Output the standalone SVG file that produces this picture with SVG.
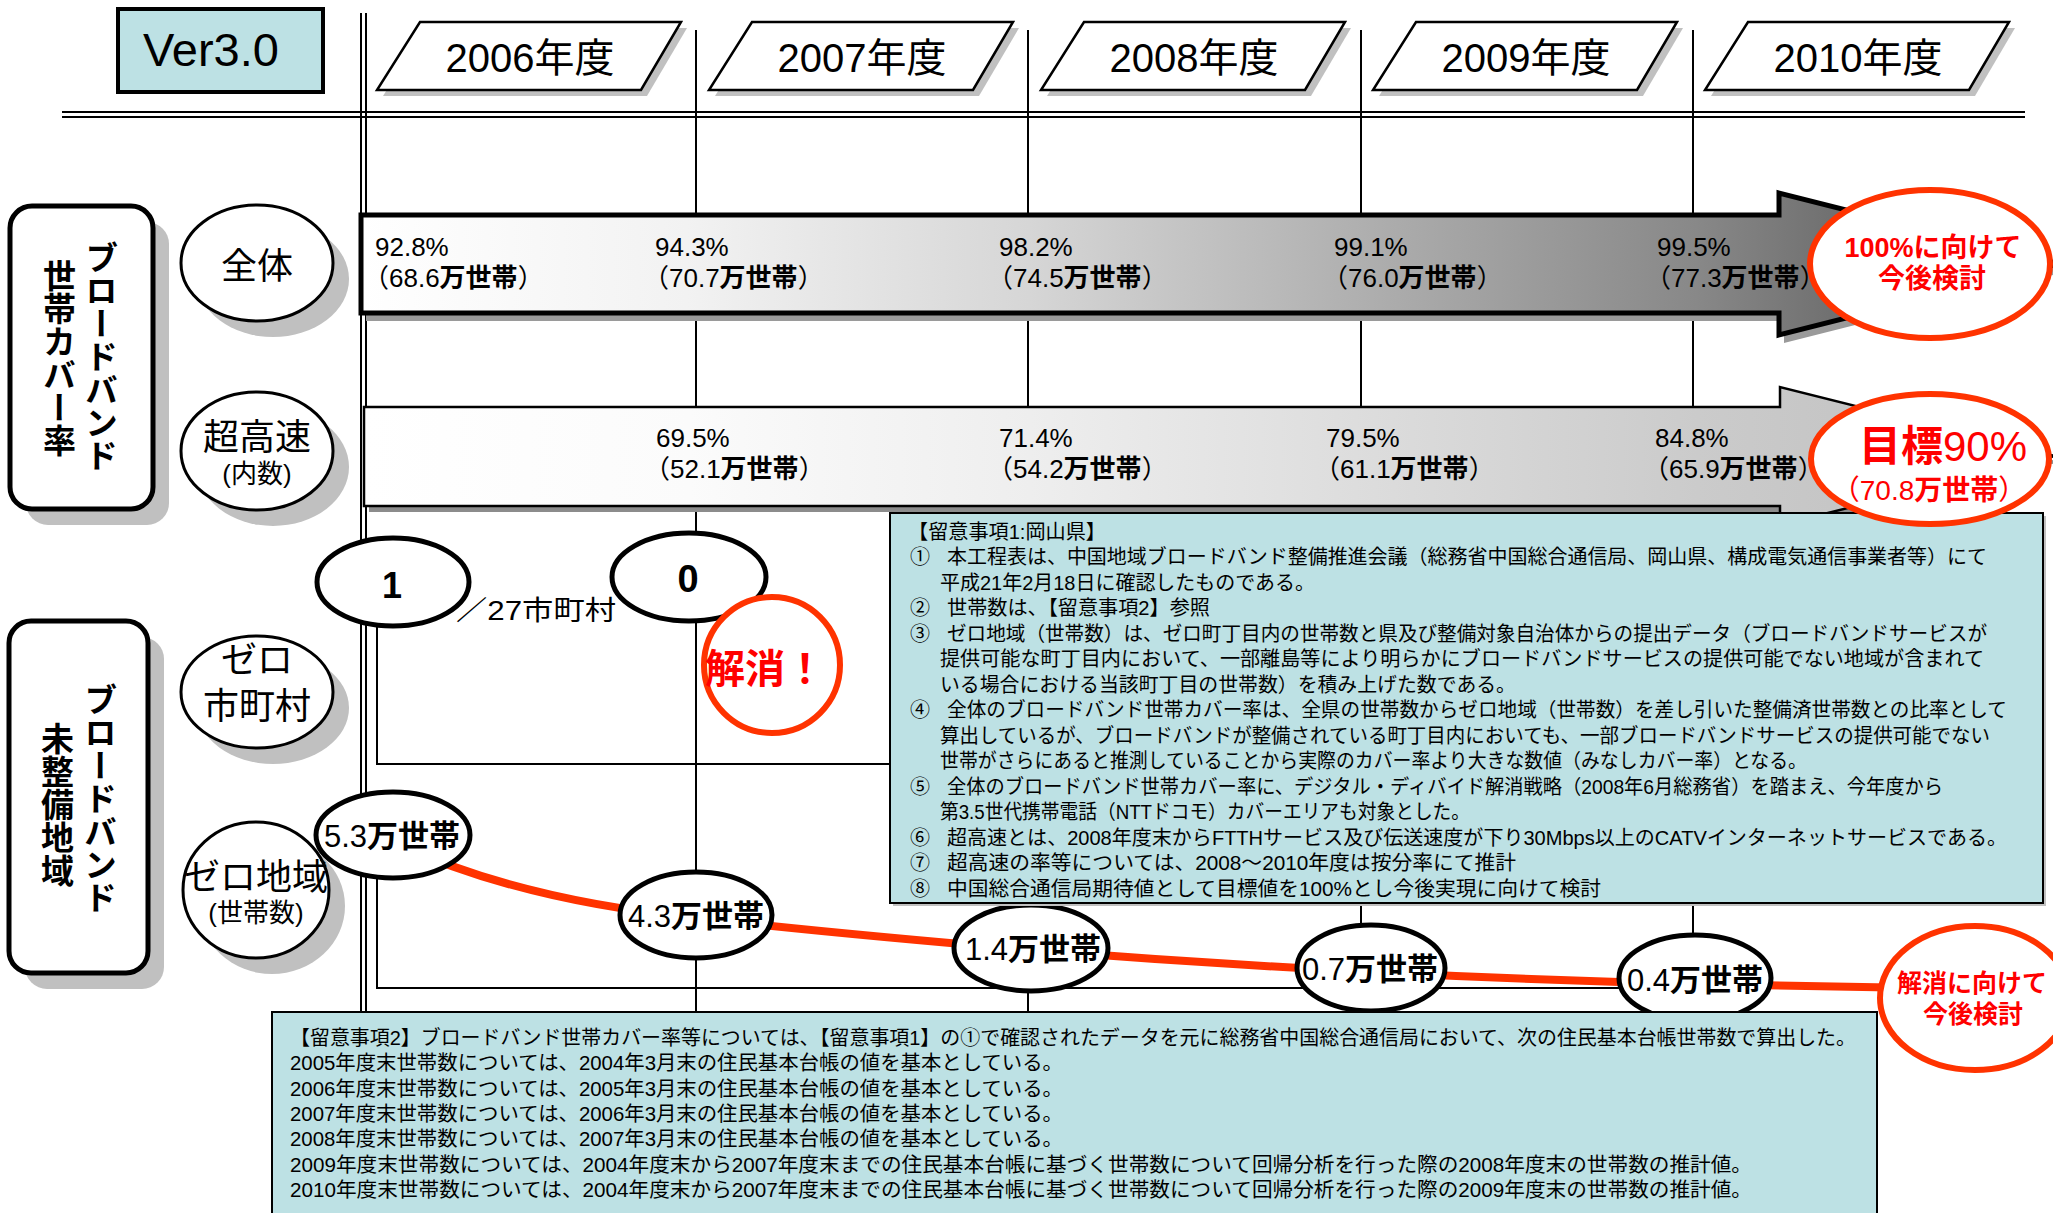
<svg xmlns="http://www.w3.org/2000/svg" width="2053" height="1213" viewBox="0 0 2053 1213">
<defs>
<linearGradient id="g1" gradientUnits="userSpaceOnUse" x1="361" y1="0" x2="1990" y2="0">
<stop offset="0" stop-color="#ffffff"/>
<stop offset="0.2" stop-color="#f2f2f2"/>
<stop offset="0.41" stop-color="#d6d6d6"/>
<stop offset="0.61" stop-color="#b0b0b0"/>
<stop offset="0.82" stop-color="#888888"/>
<stop offset="1" stop-color="#555555"/>
</linearGradient>
<linearGradient id="g2" gradientUnits="userSpaceOnUse" x1="364" y1="0" x2="1990" y2="0">
<stop offset="0" stop-color="#ffffff"/>
<stop offset="0.2" stop-color="#fbfbfb"/>
<stop offset="0.41" stop-color="#eeeeee"/>
<stop offset="0.61" stop-color="#dddddd"/>
<stop offset="0.82" stop-color="#cbcbcb"/>
<stop offset="1" stop-color="#c0c0c0"/>
</linearGradient>
</defs>
<style>
text { font-family: "Liberation Sans", "Noto Sans CJK JP", sans-serif; fill:#000; }
.grid { stroke:#000; stroke-width:2; fill:none; }
.sh { fill:#c0c0c0; }
.lbl { fill:#fff; stroke:#000; stroke-width:3; }
.box { fill:#fff; stroke:#000; stroke-width:5; }
.dat { fill:#fff; stroke:#000; stroke-width:5; }
.red { fill:#fff; stroke:#ff3300; stroke-width:6; }
.note { fill:#bde1e4; stroke:#000; stroke-width:2; }
.nt { font-size:20px; }
.rt { fill:#ff0000; font-weight:bold; }
.vt { writing-mode: vertical-rl; font-weight:bold; font-size:33px; text-anchor:middle; }
.b { font-weight:bold; }
.yr { font-size:40px; text-anchor:middle; }
.bar { font-size:26px; }
.lt { font-size:36px; text-anchor:middle; }
.ls { font-size:26px; text-anchor:middle; }
.dt { font-size:31px; text-anchor:middle; }
.para { fill:#fff; stroke:#000; stroke-width:2.5; }
</style>

<g id="grid">
<line class="grid" x1="361" y1="13" x2="361" y2="1012"/>
<line class="grid" x1="366" y1="13" x2="366" y2="1012"/>
<line class="grid" x1="62" y1="112" x2="2025" y2="112"/>
<line class="grid" x1="62" y1="117" x2="2025" y2="117"/>
<line class="grid" x1="696" y1="30" x2="696" y2="1012"/>
<line class="grid" x1="1028" y1="30" x2="1028" y2="1012"/>
<line class="grid" x1="1361" y1="30" x2="1361" y2="1012"/>
<line class="grid" x1="1693" y1="30" x2="1693" y2="1012"/>
<path class="grid" d="M377,582 V764 H890"/>
<path class="grid" d="M377,835 V988 H1900"/>
</g>

<g id="version">
<rect x="118" y="9" width="205" height="83" fill="#bde1e4" stroke="#000" stroke-width="4"/>
<text x="211" y="66" font-size="47" text-anchor="middle">Ver3.0</text>
</g>

<g id="year-2006">
<polygon class="sh" points="426,28 687,28 647,96 383,96"/>
<polygon class="para" points="420,22 681,22 641,90 377,90"/>
<text class="yr" x="530" y="72">2006年度</text>
</g>
<g id="year-2007">
<polygon class="sh" points="758,28 1019,28 979,96 715,96"/>
<polygon class="para" points="752,22 1013,22 973,90 709,90"/>
<text class="yr" x="862" y="72">2007年度</text>
</g>
<g id="year-2008">
<polygon class="sh" points="1090,28 1351,28 1311,96 1047,96"/>
<polygon class="para" points="1084,22 1345,22 1305,90 1041,90"/>
<text class="yr" x="1194" y="72">2008年度</text>
</g>
<g id="year-2009">
<polygon class="sh" points="1422,28 1683,28 1643,96 1379,96"/>
<polygon class="para" points="1416,22 1677,22 1637,90 1373,90"/>
<text class="yr" x="1526" y="72">2009年度</text>
</g>
<g id="year-2010">
<polygon class="sh" points="1754,28 2015,28 1975,96 1711,96"/>
<polygon class="para" points="1748,22 2009,22 1969,90 1705,90"/>
<text class="yr" x="1858" y="72">2010年度</text>
</g>

<g id="label-coverage">
<rect class="sh" x="26" y="222" width="143" height="303" rx="22"/>
<rect class="box" x="10" y="206" width="143" height="303" rx="22"/>
<text class="vt" x="99" y="356">ブロードバンド</text>
<text class="vt" x="57" y="358">世帯カバー率</text>
</g>
<g id="label-unserved">
<rect class="sh" x="25" y="637" width="139" height="352" rx="22"/>
<rect class="box" x="9" y="621" width="139" height="352" rx="22"/>
<text class="vt" x="98" y="798">ブロードバンド</text>
<text class="vt" x="55" y="804">未整備地域</text>
</g>

<g id="label-total">
<ellipse class="sh" cx="273" cy="279" rx="76" ry="58"/>
<ellipse class="lbl" cx="257" cy="263" rx="76" ry="58"/>
<text class="lt" x="257" y="279">全体</text>
</g>
<g id="label-ultra">
<ellipse class="sh" cx="273" cy="467" rx="76" ry="59"/>
<ellipse class="lbl" cx="257" cy="451" rx="76" ry="59"/>
<text class="lt" x="257" y="450">超高速</text>
<text class="ls" x="257" y="483" font-size="24">(内数)</text>
</g>
<g id="label-zero-muni">
<ellipse class="sh" cx="273" cy="708" rx="76" ry="56"/>
<ellipse class="lbl" cx="257" cy="692" rx="76" ry="56"/>
<text class="lt" x="257" y="673">ゼロ</text>
<text class="lt" x="257" y="719">市町村</text>
</g>
<g id="label-zero-area">
<ellipse class="sh" cx="272" cy="906" rx="73" ry="68"/>
<ellipse class="lbl" cx="256" cy="890" rx="73" ry="68"/>
<text class="lt" x="256" y="890">ゼロ地域</text>
<text class="ls" x="256" y="922">(世帯数)</text>
</g>

<g id="bar-total">
<polygon fill="#9a9a9a" points="366,223 1784,223 1784,201 2065,272 1784,343 1784,321 366,321"/>
<polygon fill="url(#g1)" stroke="#000" stroke-width="5" points="361,215 1779,215 1779,193 2060,264 1779,335 1779,313 361,313"/>
<g class="bar">
<text x="375" y="256">92.8%</text><text x="363" y="287">（68.6<tspan class="b">万世帯</tspan>）</text>
<text x="655" y="256">94.3%</text><text x="643" y="287">（70.7<tspan class="b">万世帯</tspan>）</text>
<text x="999" y="256">98.2%</text><text x="987" y="287">（74.5<tspan class="b">万世帯</tspan>）</text>
<text x="1334" y="256">99.1%</text><text x="1322" y="287">（76.0<tspan class="b">万世帯</tspan>）</text>
<text x="1657" y="256">99.5%</text><text x="1645" y="287">（77.3<tspan class="b">万世帯</tspan>）</text>
</g>
</g>

<g id="bar-ultra">
<polygon fill="#8c8c8c" points="369,413 1785,413 1785,393 2060,462 1785,531 1785,512 369,512"/>
<polygon fill="url(#g2)" stroke="#000" stroke-width="2.5" points="364,407 1780,407 1780,387 2055,456 1780,525 1780,506 364,506"/>
<g class="bar">
<text x="656" y="447">69.5%</text><text x="644" y="478">（52.1<tspan class="b">万世帯</tspan>）</text>
<text x="999" y="447">71.4%</text><text x="987" y="478">（54.2<tspan class="b">万世帯</tspan>）</text>
<text x="1326" y="447">79.5%</text><text x="1314" y="478">（61.1<tspan class="b">万世帯</tspan>）</text>
<text x="1655" y="447">84.8%</text><text x="1643" y="478">（65.9<tspan class="b">万世帯</tspan>）</text>
</g>
</g>

<g id="target-total">
<ellipse class="red" cx="1930" cy="264" rx="120" ry="74"/>
<text class="rt" x="1933" y="257" font-size="27" text-anchor="middle">100%に向けて</text>
<text class="rt" x="1932" y="288" font-size="27" text-anchor="middle">今後検討</text>
</g>

<g id="muni-2006">
<ellipse class="dat" cx="393" cy="582" rx="76" ry="44"/>
<text x="392" y="598" font-size="36" font-weight="bold" text-anchor="middle">1</text>
</g>
<text id="muni-total" x="456" y="620" font-size="27" textLength="160" lengthAdjust="spacingAndGlyphs">／27市町村</text>
<g id="muni-2007">
<ellipse class="dat" cx="689" cy="577" rx="77" ry="44"/>
<text x="688" y="592" font-size="38" font-weight="bold" text-anchor="middle">0</text>
</g>
<g id="resolved">
<ellipse class="red" cx="772" cy="665" rx="68" ry="68" stroke-width="5"/>
<text class="rt" x="705" y="683" font-size="40">解消！</text>
</g>

<g id="connectors">
<path d="M400,845 Q520,900 696,918 Q850,935 1031,950 Q1200,963 1371,972 Q1530,980 1695,984 L1975,989" fill="none" stroke="#ff3300" stroke-width="8"/>
</g>

<g id="area-2006">
<ellipse class="dat" cx="393" cy="835" rx="77" ry="43"/>
<text class="dt" x="392" y="847">5.3<tspan class="b">万世帯</tspan></text>
</g>
<g id="area-2007">
<ellipse class="dat" cx="696" cy="915" rx="76" ry="43"/>
<text class="dt" x="696" y="927">4.3<tspan class="b">万世帯</tspan></text>
</g>
<g id="area-2008">
<ellipse class="dat" cx="1031" cy="948" rx="77" ry="43"/>
<text class="dt" x="1033" y="960">1.4<tspan class="b">万世帯</tspan></text>
</g>
<g id="area-2009">
<ellipse class="dat" cx="1371" cy="968" rx="74" ry="43"/>
<text class="dt" x="1370" y="980">0.7<tspan class="b">万世帯</tspan></text>
</g>
<g id="area-2010">
<ellipse class="dat" cx="1695" cy="978" rx="76" ry="43"/>
<text class="dt" x="1695" y="991">0.4<tspan class="b">万世帯</tspan></text>
</g>

<g id="note1">
<rect class="sh" x="893" y="516" width="1153" height="390"/>
<rect class="note" x="890" y="513" width="1153" height="390"/>
<g class="nt">
<text x="908" y="539" textLength="198" lengthAdjust="spacingAndGlyphs">【留意事項1:岡山県】</text>
<text x="910" y="564">①</text>
<text x="947" y="564" textLength="1040" lengthAdjust="spacingAndGlyphs">本工程表は、中国地域ブロードバンド整備推進会議（総務省中国総合通信局、岡山県、構成電気通信事業者等）にて</text>
<text x="940" y="590" textLength="375" lengthAdjust="spacingAndGlyphs">平成21年2月18日に確認したものである。</text>
<text x="910" y="615">②</text>
<text x="947" y="615" textLength="263" lengthAdjust="spacingAndGlyphs">世帯数は、【留意事項2】参照</text>
<text x="910" y="641">③</text>
<text x="947" y="641" textLength="1040" lengthAdjust="spacingAndGlyphs">ゼロ地域（世帯数）は、ゼロ町丁目内の世帯数と県及び整備対象自治体からの提出データ（ブロードバンドサービスが</text>
<text x="940" y="666" textLength="1044" lengthAdjust="spacingAndGlyphs">提供可能な町丁目内において、一部離島等により明らかにブロードバンドサービスの提供可能でない地域が含まれて</text>
<text x="940" y="692" textLength="576" lengthAdjust="spacingAndGlyphs">いる場合における当該町丁目の世帯数）を積み上げた数である。</text>
<text x="910" y="717">④</text>
<text x="947" y="717" textLength="1060" lengthAdjust="spacingAndGlyphs">全体のブロードバンド世帯カバー率は、全県の世帯数からゼロ地域（世帯数）を差し引いた整備済世帯数との比率として</text>
<text x="940" y="743" textLength="1050" lengthAdjust="spacingAndGlyphs">算出しているが、ブロードバンドが整備されている町丁目内においても、一部ブロードバンドサービスの提供可能でない</text>
<text x="940" y="768" textLength="867" lengthAdjust="spacingAndGlyphs">世帯がさらにあると推測していることから実際のカバー率より大きな数値（みなしカバー率）となる。</text>
<text x="910" y="794">⑤</text>
<text x="947" y="794" textLength="996" lengthAdjust="spacingAndGlyphs">全体のブロードバンド世帯カバー率に、デジタル・ディバイド解消戦略（2008年6月総務省）を踏まえ、今年度から</text>
<text x="940" y="819" textLength="530" lengthAdjust="spacingAndGlyphs">第3.5世代携帯電話（NTTドコモ）カバーエリアも対象とした。</text>
<text x="910" y="845">⑥</text>
<text x="947" y="845" textLength="1060" lengthAdjust="spacingAndGlyphs">超高速とは、2008年度末からFTTHサービス及び伝送速度が下り30Mbps以上のCATVインターネットサービスである。</text>
<text x="910" y="870">⑦</text>
<text x="947" y="870" textLength="569" lengthAdjust="spacingAndGlyphs">超高速の率等については、2008～2010年度は按分率にて推計</text>
<text x="910" y="896">⑧</text>
<text x="947" y="896" textLength="654" lengthAdjust="spacingAndGlyphs">中国総合通信局期待値として目標値を100%とし今後実現に向けて検討</text>
</g>
</g>

<g id="target-ultra">
<ellipse class="red" cx="1930" cy="459" rx="119" ry="65"/>
<text class="rt" x="1943" y="461" font-size="42" text-anchor="middle">目標<tspan font-weight="normal">90%</tspan></text>
<text x="1929" y="500" font-size="28" text-anchor="middle" style="fill:#ff0000">（70.8<tspan font-weight="bold">万世帯</tspan>）</text>
</g>

<g id="target-area">
<ellipse class="red" cx="1975" cy="998" rx="95" ry="72"/>
<text class="rt" x="1972" y="992" font-size="25" text-anchor="middle">解消に向けて</text>
<text class="rt" x="1973" y="1023" font-size="25" text-anchor="middle">今後検討</text>
</g>

<g id="note2">
<rect class="note" x="272" y="1012" width="1605" height="215" stroke-width="2.5"/>
<g class="nt">
<text x="290" y="1045" textLength="1566" lengthAdjust="spacingAndGlyphs">【留意事項2】ブロードバンド世帯カバー率等については、【留意事項1】の①で確認されたデータを元に総務省中国総合通信局において、次の住民基本台帳世帯数で算出した。</text>
<text x="290" y="1070" textLength="773" lengthAdjust="spacingAndGlyphs">2005年度末世帯数については、2004年3月末の住民基本台帳の値を基本としている。</text>
<text x="290" y="1096" textLength="773" lengthAdjust="spacingAndGlyphs">2006年度末世帯数については、2005年3月末の住民基本台帳の値を基本としている。</text>
<text x="290" y="1121" textLength="773" lengthAdjust="spacingAndGlyphs">2007年度末世帯数については、2006年3月末の住民基本台帳の値を基本としている。</text>
<text x="290" y="1146" textLength="773" lengthAdjust="spacingAndGlyphs">2008年度末世帯数については、2007年3月末の住民基本台帳の値を基本としている。</text>
<text x="290" y="1172" textLength="1462" lengthAdjust="spacingAndGlyphs">2009年度末世帯数については、2004年度末から2007年度末までの住民基本台帳に基づく世帯数について回帰分析を行った際の2008年度末の世帯数の推計値。</text>
<text x="290" y="1197" textLength="1462" lengthAdjust="spacingAndGlyphs">2010年度末世帯数については、2004年度末から2007年度末までの住民基本台帳に基づく世帯数について回帰分析を行った際の2009年度末の世帯数の推計値。</text>
</g>
</g>
</svg>
